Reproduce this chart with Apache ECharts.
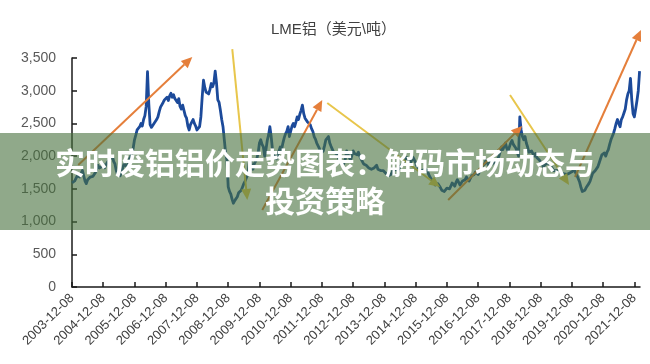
<!DOCTYPE html>
<html><head><meta charset="utf-8">
<script src="https://cdn.jsdelivr.net/npm/echarts@6/dist/echarts.min.js"></script>
<style>html,body{margin:0;padding:0;background:#fff}#c{width:650px;height:364px}</style>
</head><body><div id="c"></div>
<script>
// Semi-monthly LME aluminium prices, each row starts on 12-08 of the year named
const p2003 = [1590,1560,1620,1650,1700,1720,1680,1740,1780,1700,1620,1580,1640,1610,1680,1700,1690,1720,1750,1780,1860,1820,1800,1840];
const p2004 = [1880,1820,1860,1900,1870,1950,1980,2000,1920,1880,1780,1720,1740,1700,1760,1820,1880,1850,1840,1880,1950,1990,2050,2120];
const p2005 = [2250,2320,2400,2380,2450,2500,2460,2560,2620,2760,3290,2800,2480,2440,2460,2500,2520,2560,2600,2680,2750,2780,2820,2860];
const p2006 = [2880,2900,2850,2920,2960,2900,2940,2880,2860,2820,2880,2760,2720,2780,2700,2620,2580,2460,2400,2480,2520,2560,2500,2460];
const p2007 = [2400,2380,2450,2600,2900,3160,3050,2980,3010,2950,3020,3110,3060,3120,3300,3120,2860,2820,2700,2560,2450,2250,2050,1940];
const p2008 = [1530,1460,1420,1340,1280,1320,1300,1380,1440,1420,1480,1530,1580,1620,1650,1720,1880,1960,1850,1800,1880,1900,1960,2050];
const p2009 = [2200,2250,2180,2140,2000,2100,2240,2320,2450,2300,2100,2020,1990,1960,2000,2080,2140,2100,2200,2280,2340,2380,2450,2300];
const p2010 = [2380,2460,2500,2450,2520,2600,2560,2640,2700,2780,2650,2580,2560,2520,2540,2480,2420,2380,2300,2260,2200,2180,2120,2040];
const p2011 = [2020,2080,2160,2250,2220,2300,2200,2150,2120,2060,2080,2040,2000,1960,1900,1880,1860,1900,1960,2080,2050,1980,1940,1960];
const p2012 = [2080,2040,2060,2020,2060,2000,1960,1920,1880,1900,1860,1840,1820,1850,1800,1790,1820,1840,1860,1800,1820,1780,1760,1780];
const p2013 = [1760,1740,1720,1700,1680,1720,1760,1800,1830,1790,1760,1800,1840,1870,1880,1920,1950,1980,1940,1910,1900,1940,1980,1960];
const p2014 = [1900,1840,1820,1790,1810,1780,1760,1800,1820,1780,1720,1680,1660,1620,1650,1560,1540,1580,1560,1520,1480,1500,1460,1480];
const p2015 = [1510,1480,1500,1540,1590,1560,1540,1600,1640,1620,1560,1580,1620,1600,1640,1680,1650,1620,1660,1700,1680,1720,1760,1740];
const p2016 = [1720,1760,1800,1840,1860,1880,1940,1900,1860,1920,1900,1880,1920,1900,1880,1960,2000,2080,2140,2100,2150,2200,2120,2080];
const p2017 = [2100,2200,2240,2180,2200,2120,2060,2000,2600,2400,2300,2250,2300,2200,2140,2060,2040,2080,2060,2000,2040,1980,1960,1940];
const p2018 = [1920,1880,1840,1860,1880,1860,1900,1880,1840,1820,1780,1800,1780,1760,1790,1770,1740,1760,1730,1740,1720,1750,1740,1760];
const p2019 = [1760,1780,1790,1740,1700,1680,1600,1520,1460,1440,1480,1520,1540,1580,1620,1680,1740,1760,1780,1800,1840,1900,1960,2020];
const p2020 = [2000,2050,2000,2060,2100,2180,2250,2300,2350,2420,2500,2560,2500,2450,2560,2600,2660,2720,2860,2950,3000,3190,2860,2650];
const p2021 = [2600,2720,2850,3000,3300];
const pointsPerYear = 24;

const tickLabels = ['2003-12-08','2004-12-08','2005-12-08','2006-12-08','2007-12-08','2008-12-08','2009-12-08','2010-12-08','2011-12-08','2012-12-08','2013-12-08','2014-12-08','2015-12-08','2016-12-08','2017-12-08','2018-12-08','2019-12-08','2020-12-08','2021-12-08'];
const yTicks = [0,500,1000,1500,2000,2500,3000,3500];

// Trend arrows: [fromYears, fromValue, toYears, toValue, colourIndex]
const arrowFrom = [[0.20,1865],[5.13,3637],[6.09,1177],[8.17,2812],[12.04,1330],[14.02,2934],[16.10,1681]];
const arrowTo   = [[3.85,3515],[5.61,1330],[8.01,2858],[11.78,1528],[14.41,2461],[15.91,1559],[18.21,3928]];
const arrowKind = [0,1,0,1,0,1,0];
const arrowColors = ['#e57f3b','#e8c64c'];

const titleText = 'LME铝（美元\\吨）';
const bannerLine1 = '实时废铝铝价走势图表：解码市场动态与';
const bannerLine2 = '投资策略';

const allPrices = [].concat(p2003,p2004,p2005,p2006,p2007,p2008,p2009,p2010,p2011,p2012,p2013,p2014,p2015,p2016,p2017,p2018,p2019,p2020,p2021);
const lineData = allPrices.map((v,i)=>[i/pointsPerYear, v]);
const arrowData = arrowFrom.map((f,i)=>[f[0],f[1],arrowTo[i][0],arrowTo[i][1],arrowKind[i]]);
const tickPos = tickLabels.map((_,i)=>i);

const chart = echarts.init(document.getElementById('c'));
chart.setOption({
  animation:false,
  title:{text:titleText,left:266,top:17,textStyle:{fontSize:15,fontWeight:'normal',color:'#404040',fontFamily:'Liberation Sans, "Noto Sans CJK SC", sans-serif'}},
  grid:{left:72,right:10,top:58,bottom:77,containLabel:false,outerBoundsMode:'none'},
  xAxis:{type:'value',min:0,max:18.18,
    axisLine:{show:true,lineStyle:{color:'#1a1a1a',width:1.5}},
    axisTick:{show:true,inside:true,length:5,customValues:tickPos,lineStyle:{color:'#1a1a1a',width:1.5}},
    axisLabel:{customValues:tickPos,rotate:45,margin:9,fontSize:13,color:'#404040',fontFamily:'Liberation Sans, Arial, sans-serif',formatter:v=>tickLabels[Math.round(v)]},
    splitLine:{show:false}},
  yAxis:{type:'value',min:0,max:3500,interval:500,
    axisLine:{show:true,lineStyle:{color:'#1a1a1a',width:1.5}},
    axisTick:{show:true,inside:true,length:5,lineStyle:{color:'#1a1a1a',width:1.5}},
    axisLabel:{margin:16,fontSize:14,color:'#595959',fontFamily:'Liberation Sans, Arial, sans-serif',formatter:v=>v.toLocaleString('en-US')},
    splitLine:{show:false}},
  series:[
    {type:'line',data:lineData,showSymbol:false,symbol:'none',z:2,
      lineStyle:{color:'#1c4a9a',width:2.8,join:'round'}},
    {type:'custom',data:arrowData,clip:false,z:5,encode:{x:[0,2],y:[1,3]},
      renderItem:function(params,api){
        const p1=api.coord([api.value(0),api.value(1)]);
        const p2=api.coord([api.value(2),api.value(3)]);
        const color=arrowColors[api.value(4)];
        const dx=p2[0]-p1[0],dy=p2[1]-p1[1],len=Math.hypot(dx,dy);
        const ux=dx/len,uy=dy/len,hl=11,hw=5;
        const b=[p2[0]-ux*hl,p2[1]-uy*hl];
        return {type:'group',children:[
          {type:'line',shape:{x1:p1[0],y1:p1[1],x2:b[0],y2:b[1]},style:{stroke:color,lineWidth:2}},
          {type:'polygon',shape:{points:[p2,[b[0]-uy*hw,b[1]+ux*hw],[b[0]+uy*hw,b[1]-ux*hw]]},style:{fill:color}}
        ]};
      }}
  ],
  graphic:[
    {type:'rect',z:100,shape:{x:0,y:133,width:650,height:97},style:{fill:'rgba(70,112,60,0.6)'}},
    {type:'text',z:101,left:'center',top:148,style:{text:bannerLine1,fill:'#ffffff',font:'bold 30px "Noto Sans CJK SC", sans-serif'}},
    {type:'text',z:101,left:'center',top:186,style:{text:bannerLine2,fill:'#ffffff',font:'bold 30px "Noto Sans CJK SC", sans-serif'}}
  ]
});
</script></body></html>
